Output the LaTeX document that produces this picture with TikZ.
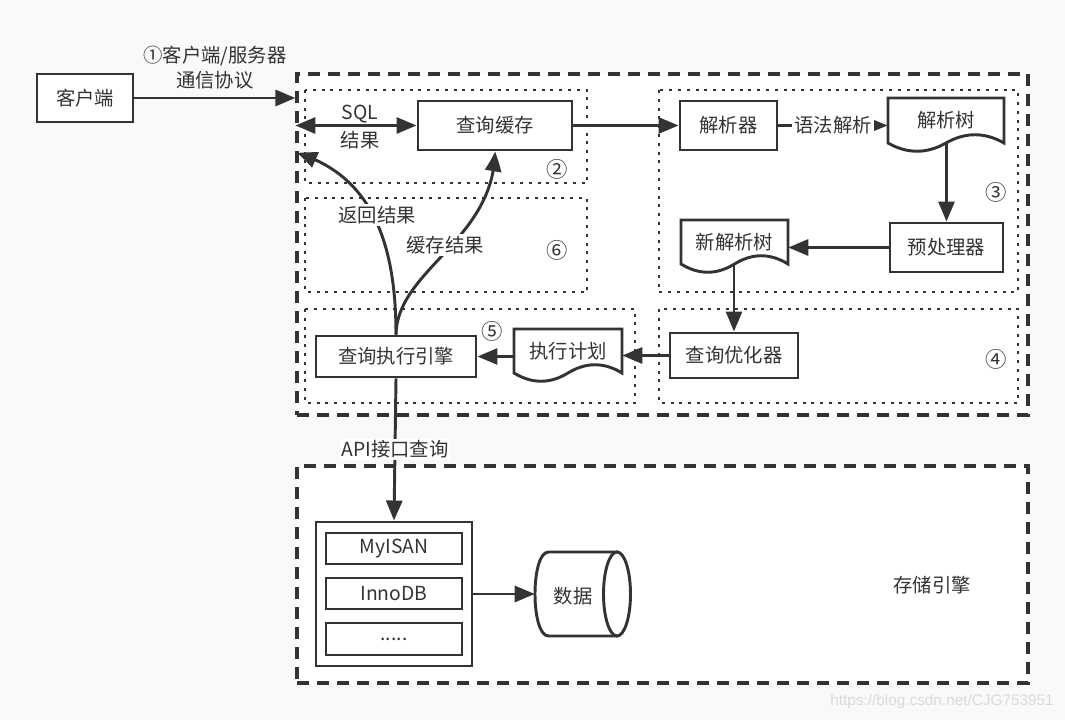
\documentclass[tikz,border=0pt]{standalone}
\usepackage{fontspec}
\setmainfont{Noto Sans CJK SC}
\newfontfamily\wmfont{Liberation Sans}
\usetikzlibrary{arrows.meta,calc,bending}
\definecolor{ink}{HTML}{333333}
\definecolor{bgc}{HTML}{F9F9F9}
\definecolor{wmc}{HTML}{DADADA}
% document shape: x1 x2 top yend
\newcommand{\docpath}[4]{%
  \pgfmathsetmacro\dw{(#2-#1)/6}%
  \pgfmathsetmacro\dm{(#1+#2)/2}%
  \draw[boxline] (#1,#3) -- (#2,#3) -- (#2,#4)
    .. controls (#2-\dw,#4-11) and (\dm+\dw,#4-11) .. (\dm,#4)
    .. controls (\dm-\dw,#4+11) and (#1+\dw,#4+11) .. (#1,#4) -- cycle;}
\begin{document}
\begin{tikzpicture}[x=0.75pt,y=-0.75pt,
  font=\fontsize{14.5}{18}\selectfont,
  every node/.style={text=ink},
  boxline/.style={draw=ink, line width=2.2pt, fill=white},
  box/.style={draw=ink, line width=2.2pt, fill=white, inner sep=0pt},
  ghost/.style={draw=none, inner sep=0pt},
  arr/.style={draw=ink, line width=2.2pt, -{Triangle[length=15pt,width=12pt]}},
  arrsmall/.style={draw=ink, line width=2.2pt, -{Triangle[length=12pt,width=9pt]}},
  arrboth/.style={draw=ink, line width=2.2pt, {Triangle[length=15pt,width=12pt]}-{Triangle[length=15pt,width=12pt]}},
  curvearr/.style={draw=ink, line width=2.2pt, -{Triangle[length=15pt,width=12pt,bend]}},
  dashbox/.style={draw=ink, line width=2.4pt, dash pattern=on 9pt off 6pt, fill=white, inner sep=0pt},
  dotbox/.style={draw=ink, line width=2.2pt, dash pattern=on 2.2pt off 4.4pt},
  num/.style={font=\fontsize{16}{18}\selectfont},
  lbl/.style={fill=white, inner sep=1.5pt}]

\useasboundingbox (0,0) rectangle (1065,720);
\fill[bgc] (0,0) rectangle (1065,720);

% large dashed regions
\node[dashbox, minimum width=548.25pt, minimum height=255.75pt] (server) at (662.5,244.5) {};
\node[dashbox, minimum width=548.25pt, minimum height=162.75pt] (store) at (662.5,574.5) {};

% dotted groups
\draw[dotbox] (305,90) rectangle (587,183);
\draw[dotbox] (305,198) rectangle (587,292);
\draw[dotbox] (659,90) rectangle (1018,292);
\draw[dotbox] (305,309) rectangle (635,403);
\draw[dotbox] (659,309) rectangle (1018,403);

% group numbers
\node[num] (n2) at (557,169) {②};
\node[num] (n6) at (557,250) {⑥};
\node[num] (n3) at (996,192) {③};
\node[num] (n4) at (996,359) {④};
\node[num] (n5) at (492,331) {⑤};

% boxes
\node[box, minimum width=72pt, minimum height=36pt] (client) at (85,98) {客户端};
\node[box, minimum width=115.5pt, minimum height=36.75pt] (cache) at (495,125.5) {查询缓存};
\node[box, minimum width=72.75pt, minimum height=36.75pt] (parser) at (728.5,125.5) {解析器};
\node[box, minimum width=84.75pt, minimum height=36.75pt] (pre) at (946.5,247.5) {预处理器};
\node[box, minimum width=96pt, minimum height=33.75pt] (opt) at (734,355.5) {查询优化器};
\node[box, minimum width=120pt, minimum height=30.75pt] (engine) at (396,356.5) {查询执行引擎};

% document shapes
\docpath{888}{1004}{98}{143}
\node[ghost, minimum width=87pt, minimum height=33.75pt] (ptree) at (946,120.5) {解析树};
\docpath{681}{788}{220}{264}
\node[ghost, minimum width=80.25pt, minimum height=33pt] (newtree) at (734.5,242) {新解析树};
\docpath{514}{622}{329}{373}
\node[ghost, minimum width=81pt, minimum height=33pt] (plan) at (568,351) {执行计划};

% storage engines
\node[box, minimum width=117pt, minimum height=108pt] (container) at (394,594) {};
\node[box, minimum width=102pt, minimum height=23.25pt] (myisam) at (394,548.5) {MyISAN};
\node[box, minimum width=102pt, minimum height=23.25pt] (innodb) at (394,593.5) {InnoDB};
\node[box, minimum width=102pt, minimum height=24pt] (more) at (394,639) {.....};

% cylinder
\draw[boxline] (617,552) -- (548.5,552) .. controls (530.5,552) and (530.5,636) .. (548.5,636) -- (617,636) -- cycle;
\draw[boxline] (617,594) ellipse [x radius=13.5, y radius=42];
\node[ghost, minimum width=71.25pt, minimum height=63pt] (db) at (582.5,594) {};
\node (dblabel) at (573,596) {数据};

\node (storelabel) at (932,585) {存储引擎};

% connectors
\draw[arr] (client.east) -- (client.east -| server.west)
  node[midway, above=2pt, align=center, font=\fontsize{14.5}{19}\selectfont] (proto) {①客户端/服务器\\通信协议};
\coordinate (sqlend) at (server.west |- cache.west);
\draw[arrboth] (sqlend) -- (cache.west);
\node (sql) at (360,114) {SQL};
\node (res) at (360,140) {结果};
\draw[arr] (cache.east) -- (parser.west);
\draw[arrsmall] (parser.east) -- (parser.east -| ptree.west) node[midway, lbl] (syn) {语法解析};
\draw[arr] (pre.north |- ptree.south) -- (pre.north);
\draw[arr] (pre.west) -- (pre.west -| newtree.east);
\draw[arr] (opt.north |- newtree.south) -- (opt.north);
\draw[arr] (opt.west) -- (opt.west -| plan.east);
\draw[arr] (engine.east -| plan.west) -- (engine.east);

\coordinate (ret) at (297,153);
\draw[curvearr] (engine.north) .. controls (396,240) and (370,175) .. (ret);
\node[lbl] (retlbl) at (377,215) {返回结果};
\draw[curvearr] (engine.north) .. controls (397,270) and (494,240) .. (cache.south);
\node[lbl] (cachelbl) at (445,245) {缓存结果};

\draw[arr] (engine.south) -- (container.north) node[pos=0.5, lbl] (api) {API接口查询};
\draw[arr] (container.east) -- (db.west);

\node[font=\wmfont\fontsize{11.5}{13}\selectfont, text=wmc] (wmark) at (942,702) {https://blog.csdn.net/CJG753951};
\end{tikzpicture}
\end{document}
